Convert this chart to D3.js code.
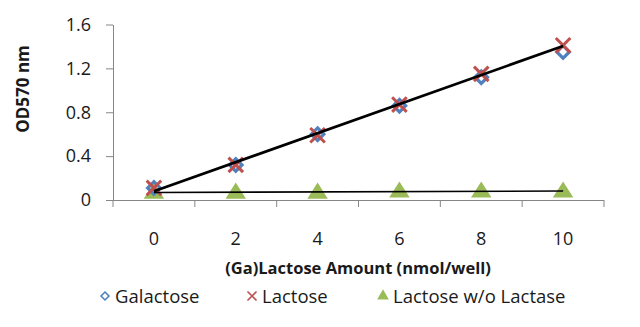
<!DOCTYPE html>
<html>
<head>
<meta charset="utf-8">
<script src="https://cdn.jsdelivr.net/npm/d3@7"></script>
<style>
  body { margin: 0; background: #fff; }
  svg { display: block; font-family: "Open Sans", sans-serif; }
</style>
</head>
<body>
<svg width="640" height="327"></svg>
<script>
// amounts (nmol/well) and OD570 readings
const amounts = [0, 2, 4, 6, 8, 10];
const galactose = [0.11, 0.32, 0.60, 0.86, 1.12, 1.35];
const lactose = [0.11, 0.32, 0.59, 0.87, 1.15, 1.41];
const noLactase = [0.07, 0.07, 0.07, 0.08, 0.08, 0.08];
const yTicks = [0, 0.4, 0.8, 1.2, 1.6];

const svg = d3.select("svg");
const plotLeft = 113, plotRight = 604, plotTop = 24.5, plotBottom = 200;

const x = d3.scaleBand().domain(amounts).range([plotLeft, plotRight]);
const y = d3.scaleLinear().domain([0, 1.6]).range([plotBottom, plotTop]);
const cx = d => x(d) + x.bandwidth() / 2;

const grey = "#868686";
const ink = "#1a1a1a";
const blue = "#4F81BD", red = "#C0504D", green = "#9BBB59";

// y axis
const yAxis = svg.append("g")
  .attr("transform", `translate(${plotLeft},0)`)
  .call(d3.axisLeft(y).tickValues(yTicks).tickSizeInner(7).tickSizeOuter(0).tickPadding(15)
    .tickFormat(d => d === 0 ? "0" : d3.format(".1f")(d)));
yAxis.select(".domain").attr("stroke", grey);
yAxis.selectAll(".tick line").attr("stroke", grey);
yAxis.selectAll("text").attr("font-size", 18).attr("fill", ink).attr("font-family", "Open Sans, sans-serif");

// x axis: labels centred in each category, ticks between them
const xAxis = svg.append("g")
  .attr("transform", `translate(0,${plotBottom})`)
  .call(d3.axisBottom(x).tickSize(0).tickPadding(32));
xAxis.select(".domain").attr("stroke", grey).attr("d", `M${plotLeft},0.5H${plotRight}`);
xAxis.selectAll("text").attr("font-size", 18).attr("fill", ink).attr("font-family", "Open Sans, sans-serif");
xAxis.selectAll(".edge")
  .data(amounts.map(a => x(a)).concat([plotRight]))
  .join("line")
  .attr("class", "edge")
  .attr("x1", d => d).attr("x2", d => d)
  .attr("y1", 0).attr("y2", 7)
  .attr("stroke", grey);

// axis titles
svg.append("text")
  .attr("transform", "translate(29,89) rotate(-90)")
  .attr("text-anchor", "middle")
  .attr("font-size", 17).attr("font-weight", "bold").attr("fill", ink)
  .text("OD570 nm");
svg.append("text")
  .attr("x", 358).attr("y", 274)
  .attr("text-anchor", "middle")
  .attr("font-size", 16.5).attr("font-weight", "bold").attr("fill", ink)
  .text("(Ga)Lactose Amount (nmol/well)");

// markers
const tri = d3.symbol().type(d3.symbolTriangle).size(150);
svg.append("g").selectAll("path")
  .data(noLactase)
  .join("path")
  .attr("d", tri)
  .attr("transform", (d, i) => `translate(${cx(amounts[i])},${y(d) + 1}) scale(1.1,1)`)
  .attr("fill", green);

const dia = d3.symbol().type(d3.symbolDiamond2).size(100);
svg.append("g").selectAll("path")
  .data(galactose)
  .join("path")
  .attr("d", dia)
  .attr("transform", (d, i) => `translate(${cx(amounts[i])},${y(d)})`)
  .attr("fill", "none").attr("stroke", blue).attr("stroke-width", 3.2);

const cross = d3.symbol().type(d3.symbolX).size(140);
svg.append("g").selectAll("path")
  .data(lactose)
  .join("path")
  .attr("d", cross)
  .attr("transform", (d, i) => `translate(${cx(amounts[i])},${y(d)})`)
  .attr("fill", "none").attr("stroke", red).attr("stroke-width", 3);

// linear trendlines (least squares)
function fit(vals) {
  const reg = d3.range(vals.length).map(i => [amounts[i], vals[i]]);
  const mx = d3.mean(reg, d => d[0]), my = d3.mean(reg, d => d[1]);
  const sxy = d3.sum(reg, d => (d[0] - mx) * (d[1] - my));
  const sxx = d3.sum(reg, d => (d[0] - mx) ** 2);
  const b = sxy / sxx, a = my - b * mx;
  const x0 = amounts[0], x1 = amounts[amounts.length - 1];
  return [[x0, a + b * x0], [x1, a + b * x1]];
}
const line = d3.line().x(d => cx(d[0])).y(d => y(d[1]));
[[lactose, 2.8], [noLactase, 1.6]].forEach(([vals, w]) => {
  svg.append("path")
    .attr("d", line(fit(vals)))
    .attr("stroke", "#000").attr("stroke-width", w).attr("fill", "none");
});

// legend
const legend = svg.append("g").attr("transform", "translate(0,297)");
const items = [
  { name: "Galactose", x: 105, sym: d3.symbol().type(d3.symbolDiamond2).size(40), fill: "none", stroke: blue },
  { name: "Lactose", x: 252, sym: d3.symbol().type(d3.symbolX).size(55), fill: "none", stroke: red },
  { name: "Lactose w/o Lactase", x: 383, sym: d3.symbol().type(d3.symbolTriangle).size(60), fill: green, stroke: "none" }
];
items.forEach(it => {
  legend.append("path")
    .attr("d", it.sym)
    .attr("transform", `translate(${it.x},-1)`)
    .attr("fill", it.fill).attr("stroke", it.stroke).attr("stroke-width", 1.6);
  legend.append("text")
    .attr("x", it.x + 10).attr("y", 6)
    .attr("font-size", 18.5).attr("fill", ink)
    .text(it.name);
});
</script>
</body>
</html>
